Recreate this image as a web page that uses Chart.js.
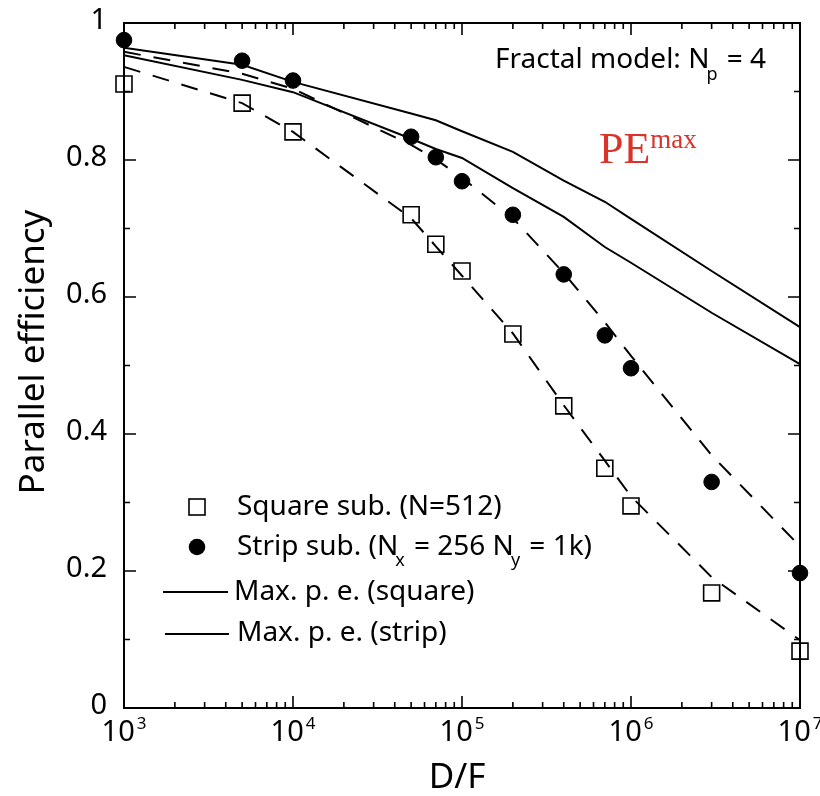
<!DOCTYPE html>
<html>
<head>
<meta charset="utf-8">
<script src="https://cdn.jsdelivr.net/npm/chart.js@4/dist/chart.umd.min.js"></script>
<style>
  html, body { margin: 0; padding: 0; background: #fff; }
</style>
</head>
<body>
<canvas id="pe-chart" width="820" height="796"></canvas>
<script>
// D/F values of the runs (the model curves are evaluated at the same points)
const dfValues = [1e3, 5e3, 1e4, 5e4, 7e4, 1e5, 2e5, 4e5, 7e5, 1e6, 3e6, 1e7];

// measured parallel efficiency
const squareSub = [0.911, 0.883, 0.841, 0.720, 0.677, 0.638, 0.546, 0.441, 0.350, 0.295, 0.168, 0.083];
const stripSub = [0.975, 0.945, 0.916, 0.834, 0.804, 0.769, 0.720, 0.633, 0.544, 0.496, 0.330, 0.197];

// fractal model, dashed
const squareFit = [0.936, 0.883, 0.841, 0.715, 0.674, 0.631, 0.547, 0.442, 0.361, 0.309, 0.191, 0.099];
const stripFit = [0.958, 0.926, 0.904, 0.822, 0.801, 0.774, 0.715, 0.635, 0.563, 0.514, 0.369, 0.236];

// maximum parallel efficiency, solid
const maxSquare = [0.964, 0.939, 0.914, 0.868, 0.858, 0.842, 0.812, 0.770, 0.739, 0.714, 0.638, 0.556];
const maxStrip = [0.953, 0.917, 0.899, 0.831, 0.816, 0.803, 0.759, 0.717, 0.673, 0.650, 0.577, 0.502];

const yTicks = [0, 0.2, 0.4, 0.6, 0.8, 1];
const yTickLabels = ['0', '0.2', '0.4', '0.6', '0.8', '1'];
const yMinorTicks = [0.1, 0.3, 0.5, 0.7, 0.9];
const xDecades = [1e3, 1e4, 1e5, 1e6, 1e7];
const xExponents = ['3', '4', '5', '6', '7'];

const FONT = '"Noto Sans", "Open Sans", sans-serif';
const RED = '#d9342b';

const toPoints = (ys) => dfValues.map((x, i) => ({ x: x, y: ys[i] }));

function xMinorTicks() {
  const out = [];
  for (let d = 0; d < xDecades.length - 1; d++) {
    for (let k = 2; k <= 9; k++) out.push(xDecades[d] * k);
  }
  return out;
}

// frame + inward tick marks on all four sides
const framePlugin = {
  id: 'frame',
  beforeDatasetsDraw(chart) {
    const { ctx, chartArea: a, scales: { x, y } } = chart;
    ctx.save();
    ctx.strokeStyle = '#000';
    ctx.lineWidth = 1.6;
    ctx.beginPath();
    yTicks.forEach((v) => {
      const py = y.getPixelForValue(v);
      ctx.moveTo(a.left, py); ctx.lineTo(a.left + 12, py);
      ctx.moveTo(a.right, py); ctx.lineTo(a.right - 12, py);
    });
    yMinorTicks.forEach((v) => {
      const py = y.getPixelForValue(v);
      ctx.moveTo(a.left, py); ctx.lineTo(a.left + 6, py);
      ctx.moveTo(a.right, py); ctx.lineTo(a.right - 6, py);
    });
    xDecades.forEach((v) => {
      const px = x.getPixelForValue(v);
      ctx.moveTo(px, a.bottom); ctx.lineTo(px, a.bottom - 12);
      ctx.moveTo(px, a.top); ctx.lineTo(px, a.top + 12);
    });
    xMinorTicks().forEach((v) => {
      const px = x.getPixelForValue(v);
      ctx.moveTo(px, a.bottom); ctx.lineTo(px, a.bottom - 6);
      ctx.moveTo(px, a.top); ctx.lineTo(px, a.top + 6);
    });
    ctx.stroke();
    ctx.lineWidth = 2;
    ctx.strokeRect(a.left, a.top, a.right - a.left, a.bottom - a.top);
    ctx.restore();
  }
};

// text with a lowered subscript; returns the x after it
function drawSub(ctx, base, sub, x, y, size, subSize, drop, tuck) {
  ctx.font = size + 'px ' + FONT;
  ctx.fillText(base, x, y);
  let cx = x + ctx.measureText(base).width - tuck;
  ctx.font = subSize + 'px ' + FONT;
  ctx.fillText(sub, cx, y + drop);
  return cx + ctx.measureText(sub).width;
}

const textPlugin = {
  id: 'texts',
  afterDraw(chart) {
    const { ctx, scales: { x, y } } = chart;
    ctx.save();
    ctx.fillStyle = '#000';
    ctx.textBaseline = 'alphabetic';

    // y tick labels
    ctx.font = '29px ' + FONT;
    ctx.textAlign = 'right';
    yTicks.forEach((v, i) => {
      ctx.fillText(yTickLabels[i], 107, y.getPixelForValue(v) + 6);
    });

    // x tick labels: 10 with exponent
    ctx.textAlign = 'left';
    xDecades.forEach((v, i) => {
      ctx.font = '29px ' + FONT;
      const w10 = ctx.measureText('10').width;
      ctx.font = '17px ' + FONT;
      const wExp = ctx.measureText(xExponents[i]).width;
      const start = x.getPixelForValue(v) - (w10 + 2 + wExp) / 2;
      ctx.font = '29px ' + FONT;
      ctx.fillText('10', start, 741);
      ctx.font = '17px ' + FONT;
      ctx.fillText(xExponents[i], start + w10 + 2, 729);
    });

    // axis titles
    ctx.font = '35px ' + FONT;
    ctx.textAlign = 'center';
    ctx.fillText('D/F', 457, 788);
    ctx.save();
    ctx.translate(44, 352);
    ctx.rotate(-Math.PI / 2);
    ctx.fillText('Parallel efficiency', 0, 0);
    ctx.restore();

    // model label
    ctx.textAlign = 'left';
    let cx = drawSub(ctx, 'Fractal model: N', 'p', 495, 68, 28, 18, 12, 3);
    ctx.font = '28px ' + FONT;
    ctx.fillText(' = 4', cx + 2, 68);

    // PE^max
    ctx.fillStyle = RED;
    ctx.font = '44px "Liberation Serif", "Times New Roman", serif';
    ctx.fillText('PE', 599, 163);
    const wPE = ctx.measureText('PE').width;
    ctx.font = '27px "Liberation Serif", "Times New Roman", serif';
    ctx.fillText('max', 599 + wPE, 148);

    // legend
    ctx.fillStyle = '#000';
    ctx.strokeStyle = '#000';
    ctx.lineWidth = 1.6;
    ctx.strokeRect(189, 499, 16, 16);
    ctx.beginPath();
    ctx.arc(197, 547, 8.3, 0, Math.PI * 2);
    ctx.fill();
    ctx.lineWidth = 2;
    ctx.beginPath();
    ctx.moveTo(163, 592); ctx.lineTo(228, 592);
    ctx.moveTo(165, 634); ctx.lineTo(229, 634);
    ctx.stroke();

    ctx.font = '28px ' + FONT;
    ctx.fillText('Square sub. (N=512)', 237, 515);
    cx = drawSub(ctx, 'Strip sub. (N', 'x', 237, 555, 28, 18, 11, 3);
    cx = drawSub(ctx, ' = 256 N', 'y', cx + 2, 555, 28, 18, 11, 3);
    ctx.font = '28px ' + FONT;
    ctx.fillText(' = 1k)', cx + 2, 555);
    ctx.fillText('Max. p. e. (square)', 234, 600);
    ctx.fillText('Max. p. e. (strip)', 237, 641);
    ctx.restore();
  }
};

const lineStyle = { showLine: true, pointRadius: 0, borderColor: '#000', borderWidth: 2, tension: 0, clip: false };

new Chart(document.getElementById('pe-chart'), {
  type: 'scatter',
  data: {
    datasets: [
      {
        label: 'Square sub. (N=512)',
        data: toPoints(squareSub),
        pointStyle: 'rect',
        pointRadius: 11.3,
        borderColor: '#000',
        borderWidth: 1.6,
        backgroundColor: 'rgba(0,0,0,0)',
        clip: false
      },
      {
        label: 'Strip sub. (Nx = 256 Ny = 1k)',
        data: toPoints(stripSub),
        pointStyle: 'circle',
        pointRadius: 7.8,
        borderColor: '#000',
        borderWidth: 1,
        backgroundColor: '#000',
        clip: false
      },
      Object.assign({ label: 'Fit (square)', data: toPoints(squareFit), borderDash: [17, 13] }, lineStyle),
      Object.assign({ label: 'Fit (strip)', data: toPoints(stripFit), borderDash: [17, 13] }, lineStyle),
      Object.assign({ label: 'Max. p. e. (square)', data: toPoints(maxSquare) }, lineStyle),
      Object.assign({ label: 'Max. p. e. (strip)', data: toPoints(maxStrip) }, lineStyle)
    ]
  },
  options: {
    responsive: false,
    animation: false,
    devicePixelRatio: 1,
    layout: { padding: { top: 23, right: 20, left: 0, bottom: 0 } },
    plugins: { legend: { display: false }, tooltip: { enabled: false } },
    scales: {
      x: {
        type: 'logarithmic',
        min: 1e3,
        max: 1e7,
        grid: { display: false },
        border: { display: false },
        ticks: { display: false },
        afterFit(scale) { scale.height = 88; }
      },
      y: {
        min: 0,
        max: 1,
        grid: { display: false },
        border: { display: false },
        ticks: { display: false },
        afterFit(scale) { scale.width = 124; }
      }
    }
  },
  plugins: [framePlugin, textPlugin]
});
</script>
</body>
</html>
